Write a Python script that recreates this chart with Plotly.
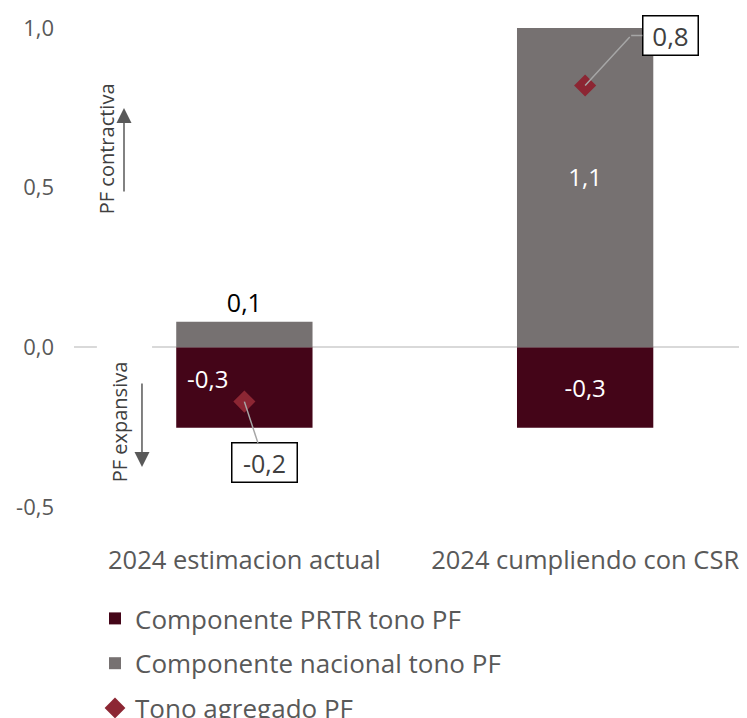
import plotly.graph_objects as go

categories = ["2024 estimacion actual", "2024 cumpliendo con CSR"]
prtr = [-0.252, -0.252]          # Componente PRTR tono PF
nacional = [0.08, 1.07]          # Componente nacional tono PF
tono = [-0.17, 0.82]             # Tono agregado PF
tick_vals = [-0.5, 0.0, 0.5, 1.0]
tick_text = ["-0,5", "0,0", "0,5", "1,0"]

C_PRTR = "#440518"
C_NAC = "#767171"
C_TONO = "#8C2633"
TXT = "#595959"
FONT = "Open Sans"

W, H = 739, 710   # page body adds an 8px offset


def fmt(v):
    return f"{v:.1f}".replace(".", ",")


fig = go.Figure()

fig.add_trace(go.Bar(
    x=categories, y=prtr, name="Componente PRTR tono PF",
    marker=dict(color=C_PRTR, line=dict(width=0)),
    text=["", fmt(prtr[1])], textposition="inside",
    insidetextanchor="middle",
    textfont=dict(color="white", size=24, family=FONT),
    width=0.4, legendgroup="a",
))
fig.add_trace(go.Bar(
    x=categories, y=nacional, name="Componente nacional tono PF",
    marker=dict(color=C_NAC, line=dict(width=0)),
    text=[fmt(v) for v in nacional], textposition=["outside", "inside"],
    insidetextanchor="middle",
    textfont=dict(color=["#000000", "#FFFFFF"], size=[25, 24], family=FONT),
    width=0.4, legendgroup="b",
))
fig.add_trace(go.Scatter(
    x=categories, y=tono, name="Tono agregado PF", mode="markers",
    marker=dict(symbol="diamond", size=17, color=C_TONO),
    legendgroup="c",
))

LEADER = dict(arrowhead=0, arrowwidth=1.5, arrowcolor="#A6A6A6")
BOX = dict(bordercolor="#000000", borderwidth=1.5, borderpad=2, bgcolor="white")

annotations = [
    # first PRTR label (top-left inside bar)
    dict(x=categories[0], y=0, xref="x", yref="y", text=fmt(prtr[0]),
         showarrow=False, xshift=-37, yshift=-31,
         font=dict(color="white", size=24, family=FONT)),
    # boxed labels for the aggregate
    dict(x=categories[0], y=tono[0], xref="x", yref="y", text=fmt(tono[0]),
         showarrow=True, ax=20, ay=61, width=60, height=34,
         font=dict(color="#404040", size=25, family=FONT), **LEADER, **BOX),
    # elbow leader for second label: diagonal part
    dict(x=categories[1], y=tono[1], xref="x", yref="y", text="",
         showarrow=True, ax=46, ay=-50, **LEADER),
    # box + horizontal part
    dict(x=categories[1], y=tono[1], xref="x", yref="y", text=fmt(tono[1]),
         showarrow=True, xshift=46, yshift=50, ax=39, ay=0,
         width=50, height=34,
         font=dict(color="#404040", size=26, family=FONT), **LEADER, **BOX),
    # direction notes
    dict(x=0.0475, y=0.749, xref="paper", yref="paper", text="PF contractiva",
         showarrow=False, textangle=-90, xanchor="center", yanchor="middle",
         font=dict(color="#404040", size=20, family=FONT)),
    dict(x=0.0669, y=0.177, xref="paper", yref="paper", text="PF expansiva",
         showarrow=False, textangle=-90, xanchor="center", yanchor="middle",
         font=dict(color="#404040", size=20, family=FONT)),
    dict(x=0.0743, y=0.833, xref="paper", yref="paper", text="",
         showarrow=True, arrowhead=2, arrowsize=2, arrowwidth=1.5,
         arrowcolor="#595959", ax=0, ay=85),
    dict(x=0.101, y=0.0835, xref="paper", yref="paper", text="",
         showarrow=True, arrowhead=2, arrowsize=2, arrowwidth=1.5,
         arrowcolor="#595959", ax=0, ay=-85),
]

fig.update_layout(
    width=W, height=H,
    margin=dict(l=66, r=0, t=20, b=211, autoexpand=False),
    paper_bgcolor="white", plot_bgcolor="white",
    barmode="relative",
    font=dict(family=FONT, color=TXT, size=22),
    showlegend=True,
    legend=dict(
        xref="container", yref="container", x=87 / W, y=1 - 587 / H,
        xanchor="left", yanchor="top", orientation="v",
        font=dict(size=26, color=TXT, family=FONT),
        tracegroupgap=8, bgcolor="rgba(0,0,0,0)",
    ),
    annotations=annotations,
    shapes=[dict(type="rect", xref="paper", yref="y", x0=0.034, x1=0.116,
                 y0=-0.012, y1=0.012, fillcolor="white", line=dict(width=0),
                 layer="above")],
)
fig.update_xaxes(range=[-0.5, 1.475], showgrid=False, showline=False,
                 ticks="", tickangle=0,
                 tickfont=dict(size=25.5, color=TXT, family=FONT),
                 ticklabelstandoff=35)
fig.update_yaxes(range=[-0.5, 1.0], tickvals=tick_vals, ticktext=tick_text,
                 showgrid=False, showline=False, zeroline=True,
                 zerolinecolor="#D9D9D9", zerolinewidth=2, ticks="",
                 tickfont=dict(size=22, color=TXT, family=FONT),
                 ticklabelstandoff=19)

fig.write_html("out.html")
